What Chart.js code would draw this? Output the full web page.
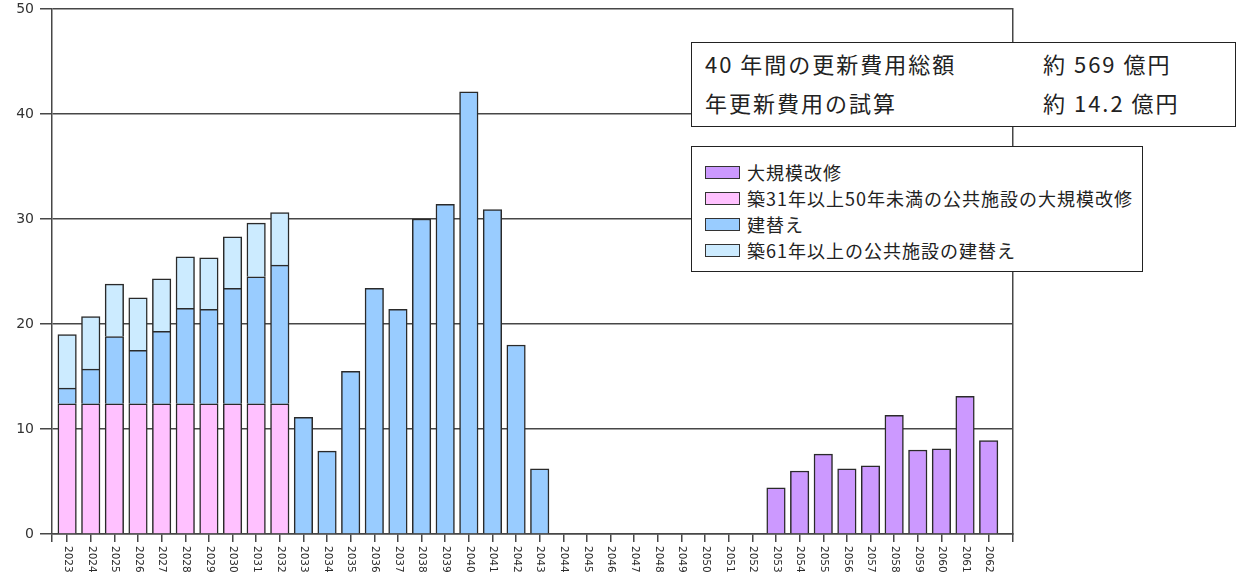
<!DOCTYPE html>
<html lang="ja">
<head>
<meta charset="utf-8">
<script src="https://cdn.jsdelivr.net/npm/chart.js@4/dist/chart.umd.min.js"></script>
<style>
  body { margin: 0; background: #fff; }
  #wrap { position: relative; width: 1237px; height: 573px; }
  .box { position: absolute; background: #fff; border: 1.5px solid #222; box-sizing: border-box;
         font-family: "Noto Sans CJK JP", sans-serif; color: #222; }
  #sumBox { left: 691px; top: 42px; width: 545px; height: 85px; font-size: 22px; letter-spacing: 2px; }
  #sumBox div { position: absolute; line-height: 24px; white-space: nowrap; }
  #legendBox { left: 691px; top: 146px; width: 452px; height: 126px; font-size: 18px; letter-spacing: 1px; }
  .lg-row { position: absolute; left: 13px; height: 26px; display: flex; align-items: center; white-space: nowrap; }
  .lg-sw { width: 33px; height: 11px; border: 1.5px solid #333; margin-right: 7px; }
</style>
</head>
<body>
<div id="wrap">
  <canvas id="chart" width="1237" height="573"></canvas>
  <div class="box" id="sumBox"></div>
  <div class="box" id="legendBox"></div>
</div>
<script>
const xLabels = ['2023','2024','2025','2026','2027','2028','2029','2030','2031','2032',
                 '2033','2034','2035','2036','2037','2038','2039','2040','2041','2042',
                 '2043','2044','2045','2046','2047','2048','2049','2050','2051','2052',
                 '2053','2054','2055','2056','2057','2058','2059','2060','2061','2062'];

const seriesNames = ['大規模改修', '築31年以上50年未満の公共施設の大規模改修', '建替え', '築61年以上の公共施設の建替え'];

const daikibo = [null,null,null,null,null,null,null,null,null,null,
                 null,null,null,null,null,null,null,null,null,null,
                 null,null,null,null,null,null,null,null,null,null,
                 4.4,6.0,7.6,6.2,6.5,11.3,8.0,8.1,13.1,8.9];
const chiku31 = [12.4,12.4,12.4,12.4,12.4,12.4,12.4,12.4,12.4,12.4,
                 null,null,null,null,null,null,null,null,null,null,
                 null,null,null,null,null,null,null,null,null,null,
                 null,null,null,null,null,null,null,null,null,null];
const tatekae = [1.5,3.3,6.4,5.1,6.9,9.1,9.0,11.0,12.1,13.2,
                 11.1,7.9,15.5,23.4,21.4,30.0,31.4,42.1,30.9,18.0,
                 6.2,null,null,null,null,null,null,null,null,null,
                 null,null,null,null,null,null,null,null,null,null];
const chiku61 = [5.1,5.0,5.0,5.0,5.0,4.9,4.9,4.9,5.1,5.0,
                 null,null,null,null,null,null,null,null,null,null,
                 null,null,null,null,null,null,null,null,null,null,
                 null,null,null,null,null,null,null,null,null,null];

const yTicks = [0, 10, 20, 30, 40, 50];
const summary = [['40 年間の更新費用総額', '約 569 億円'], ['年更新費用の試算', '約 14.2 億円']];

const colors = ['#CC99FF', '#FFC1FF', '#99CCFF', '#CCEBFF'];
const years = xLabels.map(Number);
const xMin = 2022.36, xMax = 2063.03;

function toPoints(vals){
    return vals.map((v, i) => ({x: years[i], y: v}));
}

const gridColor = '#474747';

const xLabelPlugin = {
    id: 'xLabelPlugin',
    afterDraw(chart){
        const sc = chart.scales.x;
        const c = chart.ctx;
        c.save();
        c.font = '10.5px "DejaVu Sans"';
        c.fillStyle = '#2a2a2a';
        c.textAlign = 'left';
        c.textBaseline = 'middle';
        xLabels.forEach((lab, i) => {
            const px = sc.getPixelForValue(years[i]);
            c.save();
            c.translate(px + 0.5, chart.chartArea.bottom + 12);
            c.rotate(Math.PI / 2);
            c.fillText(lab, 0, 0);
            c.restore();
        });
        c.restore();
    }
};

const chart = new Chart(document.getElementById('chart'), {
    type: 'bar',
    data: {
        datasets: [daikibo, chiku31, tatekae, chiku61].map((vals, i) => ({
            label: seriesNames[i],
            data: toPoints(vals),
            backgroundColor: colors[i],
            borderColor: '#2a2a2a',
            borderWidth: 1.5,
            barThickness: 18.5
        }))
    },
    options: {
        responsive: false,
        animation: false,
        layout: { padding: { top: 9, left: 0, right: 0, bottom: 0 } },
        plugins: { legend: { display: false }, tooltip: { enabled: false } },
        scales: {
            x: {
                type: 'linear',
                stacked: true,
                offset: false,
                min: xMin,
                max: xMax,
                afterBuildTicks: s => { s.ticks = [xMin].concat(years, [xMax]).map(v => ({value: v})); },
                afterFit: s => { s.height = 39; s.paddingLeft = 0; s.paddingRight = 0; },
                ticks: { display: false },
                grid: { offset: false, drawOnChartArea: false, drawTicks: true, tickLength: 8, color: gridColor, lineWidth: 1.5 },
                border: { display: true, color: gridColor, width: 1.5 }
            },
            y: {
                stacked: true,
                min: 0,
                max: 50,
                afterBuildTicks: s => { s.ticks = yTicks.map(v => ({value: v})); },
                afterFit: s => { s.width = 52; s.paddingTop = 0; s.paddingBottom = 0; },
                ticks: { color: '#333', padding: 6, font: { family: 'DejaVu Sans', size: 14 } },
                grid: { color: gridColor, lineWidth: 1.5, tickLength: 12 },
                border: { display: true, color: gridColor, width: 1.5 }
            },
            y2: {
                position: 'right',
                display: true,
                min: 0,
                max: 50,
                afterFit: s => { s.width = 224; s.paddingTop = 0; s.paddingBottom = 0; },
                ticks: { display: false },
                grid: { drawOnChartArea: false, drawTicks: false },
                border: { display: true, color: gridColor, width: 1.5 }
            }
        }
    },
    plugins: [xLabelPlugin]
});

// summary box
const sumBox = document.getElementById('sumBox');
summary.forEach((row, i) => {
    const a = document.createElement('div');
    a.textContent = row[0];
    a.style.left = '13px';
    a.style.top = (8 + i * 39) + 'px';
    const b = document.createElement('div');
    b.textContent = row[1];
    b.style.left = '351px';
    b.style.top = (8 + i * 39) + 'px';
    sumBox.appendChild(a);
    sumBox.appendChild(b);
});

// legend from datasets
const legendBox = document.getElementById('legendBox');
chart.data.datasets.forEach((ds, i) => {
    const row = document.createElement('div');
    row.className = 'lg-row';
    row.style.top = (12 + i * 26) + 'px';
    const sw = document.createElement('span');
    sw.className = 'lg-sw';
    sw.style.background = ds.backgroundColor;
    const tx = document.createElement('span');
    tx.textContent = ds.label;
    row.appendChild(sw);
    row.appendChild(tx);
    legendBox.appendChild(row);
});
</script>
</body>
</html>
